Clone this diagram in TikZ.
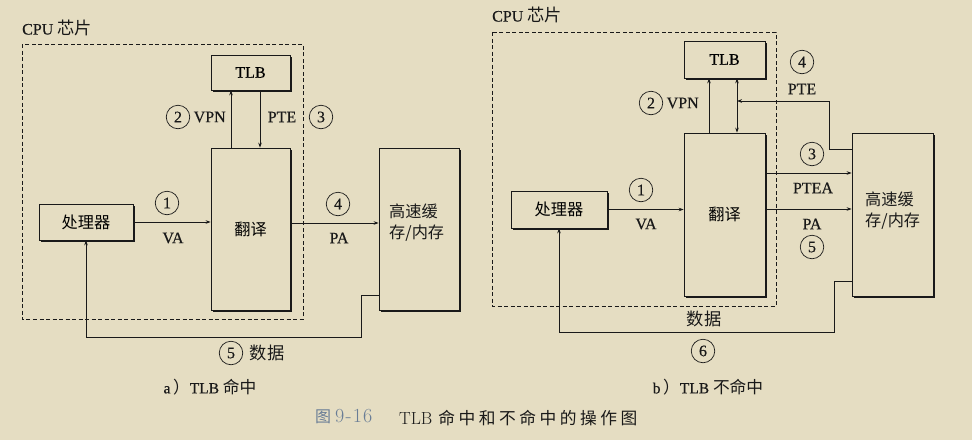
\documentclass[tikz,border=0pt]{standalone}
\usepackage{fontspec}
\setmainfont{Liberation Serif}[FakeBold=0.4]
\newfontfamily\cjk[Scale=1.08]{Noto Sans CJK SC}
\newfontfamily\lmr{Latin Modern Roman}
\usetikzlibrary{arrows.meta,shadows}
\definecolor{bg}{RGB}{229,221,194}
\definecolor{ink}{RGB}{25,25,25}
\definecolor{capblue}{RGB}{105,125,150}
\tikzset{
  box/.style={draw=ink,fill=bg,line width=0.8pt,inner sep=0pt,
    drop shadow={shadow xshift=1.6pt,shadow yshift=-1.6pt,fill=ink,opacity=1}},
  chip/.style={draw=ink,dashed,dash pattern=on 4pt off 2.5pt,line width=0.8pt},
  arr/.style={draw=ink,line width=0.7pt,-{Stealth[length=5pt,width=3.6pt]}},
  dbl/.style={draw=ink,line width=0.7pt,{Stealth[length=5pt,width=3.6pt]}-{Stealth[length=5pt,width=3.6pt]}},
  lbl/.style={text=ink,inner sep=0pt,font=\fontsize{16}{18}\selectfont},
  cn/.style={circle,draw=ink,line width=0.7pt,minimum size=23.5pt,inner sep=0pt,text=ink,
    font=\fontsize{16}{18}\selectfont},
  subcap/.style={text=ink,inner sep=0pt,font=\fontsize{15.5}{18}\selectfont},
  cachetxt/.style={text=ink,inner sep=0pt,align=left,anchor=north west,font=\fontsize{15}{20.5}\selectfont},
}
\begin{document}
\begin{tikzpicture}[x=1pt,y=-1pt]
\fill[bg] (0,0) rectangle (972,440);
\useasboundingbox (0,0) rectangle (972,440);

% ===================== (a) TLB hit =====================
\node[lbl,anchor=west] (cpuA) at (22,28) {CPU {\cjk 芯片}};
\draw[chip] (22,44) rectangle (303,319);

\node[box,minimum width=79pt,minimum height=35pt] (tlbA) at (250.5,72.5) {\fontsize{16}{18}\selectfont TLB};
\node[box,minimum width=79pt,minimum height=162pt] (trA) at (250.5,229) {\fontsize{15}{18}\selectfont\cjk 翻译};
\node[box,minimum width=94pt,minimum height=36pt] (procA) at (86,222) {\fontsize{15}{18}\selectfont\cjk 处理器};
\node[box,minimum width=80pt,minimum height=162pt] (cacheA) at (419,229) {};
\node[cachetxt] (cacheAt) at (389,204) {\cjk 高速缓\\\cjk 存/内存};

\coordinate (vpnAx) at (231,0);
\coordinate (pteAx) at (260,0);
\coordinate (paAy) at (0,223);
\coordinate (dAy) at (0,295);
\coordinate (dA) at (361,337);

\draw[arr] (trA.north -| vpnAx) -- (tlbA.south -| vpnAx);
\draw[arr] (tlbA.south -| pteAx) -- (trA.north -| pteAx);
\draw[arr] (procA.east) -- (procA.east -| trA.west);
\draw[arr] (trA.east |- paAy) -- (cacheA.west |- paAy);
\draw[arr] (cacheA.west |- dAy) -| (dA) -| (procA.south);

\node[cn] (c2A) at (178,117) {2};
\node[lbl,anchor=west] (vpnA) at (193.5,117) {VPN};
\node[lbl] (pteA) at (282,117) {PTE};
\node[cn] (c3A) at (321,117) {3};
\node[cn] (c1A) at (167,203) {1};
\node[lbl] (vaA) at (173,238) {VA};
\node[cn] (c4A) at (338,204) {4};
\node[lbl] (paA) at (339,238) {PA};
\node[cn] (c5A) at (231,353) {5};
\node[lbl] (dataA) at (267,353) {\cjk 数据};
\node[subcap] (capA) at (210,387) {a\,{\cjk ）}TLB {\cjk 命中}};

% ===================== (b) TLB miss =====================
\node[lbl,anchor=west] (cpuB) at (492,15) {CPU {\cjk 芯片}};
\draw[chip] (492,32) rectangle (776,306);

\node[box,minimum width=81pt,minimum height=37pt] (tlbB) at (724.5,59.5) {\fontsize{16}{18}\selectfont TLB};
\node[box,minimum width=81pt,minimum height=163pt] (trB) at (724.5,214.5) {\fontsize{15}{18}\selectfont\cjk 翻译};
\node[box,minimum width=96pt,minimum height=37pt] (procB) at (559,209.5) {\fontsize{15}{18}\selectfont\cjk 处理器};
\node[box,minimum width=81pt,minimum height=163pt] (cacheB) at (892.5,214.5) {};
\node[cachetxt] (cacheBt) at (865,192) {\cjk 高速缓\\\cjk 存/内存};

\coordinate (vpnBx) at (709,0);
\coordinate (dblBx) at (737,0);
\coordinate (pteBy) at (0,149);
\coordinate (pteB) at (829,101);
\coordinate (pteaBy) at (0,173);
\coordinate (paBy) at (0,209);
\coordinate (dBy) at (0,281);
\coordinate (dB) at (834,332);

\draw[arr] (trB.north -| vpnBx) -- (tlbB.south -| vpnBx);
\draw[dbl] (trB.north -| dblBx) -- (tlbB.south -| dblBx);
\draw[arr] (cacheB.west |- pteBy) -| (pteB) -- (pteB -| dblBx);
\draw[arr] (trB.east |- pteaBy) -- (cacheB.west |- pteaBy);
\draw[arr] (trB.east |- paBy) -- (cacheB.west |- paBy);
\draw[arr] (procB.east) -- (procB.east -| trB.west);
\draw[arr] (cacheB.west |- dBy) -| (dB) -| (procB.south);

\node[cn] (c4B) at (802,62) {4};
\node[lbl] (pteBt) at (802,89) {PTE};
\node[cn] (c2B) at (651,103) {2};
\node[lbl,anchor=west] (vpnB) at (666.5,103) {VPN};
\node[cn] (c3B) at (812,154) {3};
\node[lbl] (pteaB) at (813,188) {PTEA};
\node[lbl] (paB) at (812,224) {PA};
\node[cn] (c5B) at (812,247) {5};
\node[cn] (c1B) at (641,190) {1};
\node[lbl] (vaB) at (646,224) {VA};
\node[lbl] (dataB) at (704,319) {\cjk 数据};
\node[cn] (c6B) at (703,351) {6};
\node[subcap] (capB) at (708,387) {b\,{\cjk ）}TLB {\cjk 不命中}};

% ===================== figure caption =====================
\node[text=capblue,inner sep=0pt,anchor=west] (fignum) at (315,417)
  {{\fontsize{14.8}{18}\selectfont\cjk 图}\hspace{4pt}{\fontsize{20}{21}\selectfont\lmr\addfontfeature{LetterSpace=6}9-16}};
\node[text=ink,inner sep=0pt,anchor=west] (figtitle) at (399,418)
  {{\fontsize{17.5}{20}\selectfont\lmr TLB}\hspace{6pt}{\fontsize{15.5}{18}\selectfont\cjk\addfontfeature{LetterSpace=21}命中和不命中的操作图}};
\end{tikzpicture}
\end{document}
